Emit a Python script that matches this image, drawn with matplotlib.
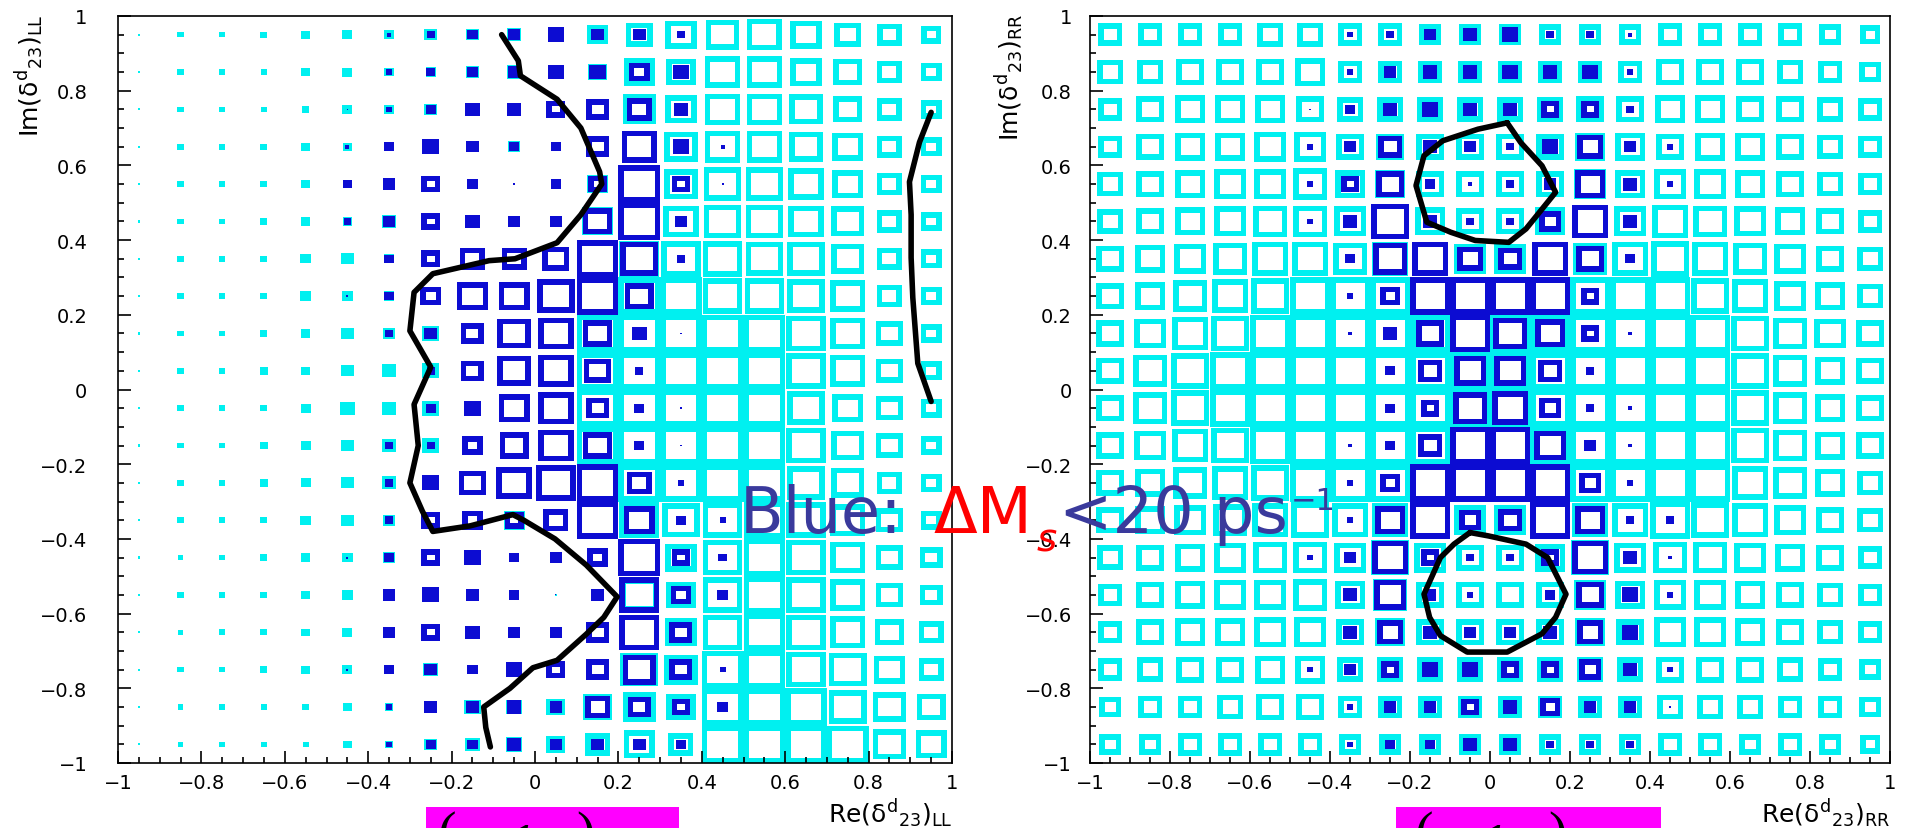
import matplotlib
matplotlib.use('Agg')
import matplotlib.pyplot as plt
import numpy as np
from matplotlib import font_manager
from matplotlib.path import Path
from matplotlib.collections import PathCollection
from matplotlib.patches import Rectangle
from matplotlib.ticker import MultipleLocator, FuncFormatter

# bin centres (20 x 20 bins on [-1, 1])
bin_centres = [-0.95, -0.85, -0.75, -0.65, -0.55, -0.45, -0.35, -0.25, -0.15, -0.05,
               0.05, 0.15, 0.25, 0.35, 0.45, 0.55, 0.65, 0.75, 0.85, 0.95]

# box sizes in % of the bin, rows from Im = +0.95 (top) down to -0.95
ll_all = [
    [6, 15, 15, 17, 22, 24, 25, 30, 30, 35, 40, 50, 65, 75, 80, 84, 75, 65, 58, 48],
    [6, 15, 15, 15, 20, 24, 22, 25, 30, 35, 40, 45, 75, 70, 85, 85, 75, 70, 60, 50],
    [6, 15, 15, 15, 18, 24, 25, 30, 35, 35, 45, 55, 80, 75, 85, 85, 80, 70, 60, 50],
    [6, 15, 15, 17, 22, 22, 25, 40, 30, 28, 25, 55, 85, 80, 85, 85, 80, 75, 60, 50],
    [5, 15, 15, 17, 22, 22, 30, 45, 25, 5, 25, 50, 100, 80, 90, 90, 85, 75, 60, 50],
    [6, 15, 15, 17, 22, 22, 35, 45, 35, 30, 30, 75, 100, 85, 90, 90, 85, 80, 60, 50],
    [6, 15, 15, 17, 25, 30, 25, 45, 60, 60, 65, 100, 95, 95, 95, 90, 90, 80, 60, 50],
    [5, 15, 15, 17, 25, 25, 25, 50, 75, 75, 90, 100, 100, 100, 95, 95, 90, 85, 60, 50],
    [6, 15, 15, 17, 22, 30, 30, 40, 55, 80, 85, 100, 100, 100, 100, 100, 95, 85, 65, 50],
    [6, 15, 15, 20, 22, 30, 35, 40, 55, 80, 85, 100, 100, 100, 100, 100, 95, 85, 65, 50],
    [6, 15, 15, 17, 24, 35, 35, 40, 40, 75, 85, 100, 100, 100, 100, 100, 90, 75, 65, 50],
    [6, 15, 15, 20, 24, 30, 35, 40, 50, 70, 85, 100, 100, 100, 100, 100, 95, 80, 65, 50],
    [6, 15, 15, 20, 24, 30, 35, 40, 65, 85, 95, 100, 100, 100, 100, 100, 90, 80, 60, 50],
    [6, 15, 15, 17, 25, 30, 30, 45, 50, 50, 60, 100, 95, 90, 95, 100, 95, 85, 65, 50],
    [6, 14, 15, 17, 22, 25, 30, 45, 40, 25, 30, 50, 100, 75, 95, 100, 95, 85, 65, 55],
    [5, 15, 15, 17, 22, 25, 30, 40, 30, 25, 5, 30, 90, 70, 95, 100, 95, 85, 65, 55],
    [5, 14, 15, 17, 20, 24, 30, 45, 35, 30, 30, 55, 95, 75, 95, 100, 95, 85, 70, 60],
    [5, 15, 15, 17, 22, 24, 25, 35, 25, 40, 45, 55, 90, 80, 100, 100, 95, 90, 75, 60],
    [5, 14, 14, 15, 18, 22, 20, 30, 40, 40, 45, 70, 80, 70, 100, 100, 100, 90, 80, 70],
    [5, 14, 14, 14, 15, 20, 20, 30, 35, 40, 45, 60, 75, 60, 100, 100, 100, 100, 80, 75],
]
ll_blue = [
    [0, 0, 0, 0, 0, 0, 10, 20, 25, 30, 40, 30, 30, 20, 0, 0, 0, 0, 0, 0],
    [0, 0, 0, 0, 0, 0, 15, 22, 25, 30, 40, 40, 50, 40, 0, 0, 0, 0, 0, 0],
    [0, 0, 0, 0, 0, 3, 15, 25, 35, 35, 45, 55, 60, 35, 0, 0, 0, 0, 0, 0],
    [0, 0, 0, 0, 0, 10, 25, 40, 30, 25, 25, 55, 85, 40, 10, 0, 0, 0, 0, 0],
    [0, 0, 0, 0, 0, 20, 30, 45, 25, 5, 25, 45, 100, 45, 5, 0, 0, 0, 0, 0],
    [0, 0, 0, 0, 0, 18, 30, 45, 35, 30, 30, 70, 100, 30, 0, 0, 0, 0, 0, 0],
    [0, 0, 0, 0, 0, 0, 22, 45, 60, 60, 65, 100, 90, 20, 0, 0, 0, 0, 0, 0],
    [0, 0, 0, 0, 0, 5, 22, 50, 75, 75, 90, 100, 70, 0, 0, 0, 0, 0, 0, 0],
    [0, 0, 0, 0, 0, 0, 20, 30, 55, 80, 85, 70, 35, 5, 0, 0, 0, 0, 0, 0],
    [0, 0, 0, 0, 0, 0, 0, 20, 55, 80, 85, 65, 20, 0, 0, 0, 0, 0, 0, 0],
    [0, 0, 0, 0, 0, 0, 0, 25, 40, 75, 85, 55, 25, 5, 0, 0, 0, 0, 0, 0],
    [0, 0, 0, 0, 0, 0, 20, 20, 50, 70, 85, 70, 25, 5, 0, 0, 0, 0, 0, 0],
    [0, 0, 0, 0, 0, 0, 20, 40, 65, 85, 95, 100, 60, 15, 0, 0, 0, 0, 0, 0],
    [0, 0, 0, 0, 0, 0, 20, 45, 50, 45, 60, 100, 75, 25, 15, 0, 0, 0, 0, 0],
    [0, 0, 0, 0, 0, 5, 25, 45, 40, 25, 30, 50, 100, 45, 20, 0, 0, 0, 0, 0],
    [0, 0, 0, 0, 0, 0, 30, 40, 30, 25, 3, 30, 95, 50, 25, 0, 0, 0, 0, 0],
    [0, 0, 0, 0, 0, 0, 30, 45, 35, 30, 30, 55, 95, 55, 0, 0, 0, 0, 0, 0],
    [0, 0, 0, 0, 0, 5, 25, 30, 25, 40, 45, 55, 80, 55, 15, 0, 0, 0, 0, 0],
    [0, 0, 0, 0, 0, 0, 15, 30, 30, 35, 30, 60, 55, 45, 25, 0, 0, 0, 0, 0],
    [0, 0, 0, 0, 0, 0, 15, 25, 25, 35, 30, 30, 30, 25, 0, 0, 0, 0, 0, 0],
]
rr_all = [
    [60, 60, 60, 60, 65, 65, 60, 60, 55, 55, 55, 55, 55, 55, 60, 60, 60, 60, 55, 50],
    [65, 65, 70, 70, 70, 75, 60, 60, 60, 60, 60, 60, 60, 60, 70, 70, 70, 65, 60, 55],
    [60, 70, 75, 75, 75, 70, 65, 65, 65, 65, 65, 65, 70, 70, 75, 75, 70, 70, 65, 60],
    [60, 70, 75, 75, 80, 80, 70, 70, 70, 70, 70, 70, 75, 75, 70, 75, 75, 70, 65, 60],
    [65, 70, 75, 80, 80, 85, 75, 75, 70, 70, 70, 70, 80, 75, 80, 80, 75, 70, 65, 60],
    [65, 70, 75, 80, 85, 85, 80, 95, 75, 70, 70, 75, 90, 80, 90, 85, 80, 75, 70, 60],
    [70, 75, 80, 85, 90, 90, 85, 90, 90, 80, 80, 90, 85, 90, 95, 90, 85, 80, 70, 65],
    [70, 75, 85, 90, 95, 100, 100, 100, 100, 100, 100, 100, 100, 100, 100, 95, 90, 80, 75, 65],
    [70, 80, 90, 95, 100, 100, 100, 100, 100, 100, 100, 100, 100, 100, 100, 100, 95, 85, 80, 70],
    [70, 85, 95, 100, 100, 100, 100, 100, 100, 100, 100, 100, 100, 100, 100, 100, 95, 85, 75, 70],
    [70, 85, 95, 100, 100, 100, 100, 100, 100, 100, 100, 100, 100, 100, 100, 100, 95, 85, 75, 70],
    [70, 80, 90, 95, 100, 100, 100, 100, 100, 100, 100, 100, 100, 100, 100, 100, 95, 85, 75, 70],
    [70, 75, 85, 90, 95, 100, 100, 100, 100, 100, 100, 100, 100, 100, 100, 100, 90, 85, 75, 65],
    [70, 75, 80, 85, 90, 95, 90, 90, 100, 80, 80, 100, 90, 90, 100, 95, 90, 80, 70, 65],
    [65, 70, 75, 80, 85, 85, 80, 95, 80, 70, 70, 75, 95, 80, 85, 85, 80, 75, 70, 60],
    [60, 70, 75, 80, 80, 85, 75, 85, 70, 70, 70, 70, 80, 75, 80, 80, 75, 70, 65, 60],
    [60, 70, 75, 75, 80, 80, 70, 75, 70, 70, 70, 70, 75, 70, 80, 80, 75, 70, 65, 60],
    [60, 65, 70, 70, 75, 75, 65, 65, 65, 65, 65, 65, 65, 65, 70, 70, 70, 65, 60, 55],
    [55, 60, 60, 65, 70, 70, 60, 60, 60, 60, 60, 60, 60, 60, 65, 65, 65, 60, 60, 55],
    [55, 55, 60, 60, 60, 60, 55, 55, 55, 55, 55, 55, 55, 55, 60, 60, 55, 60, 55, 50],
]
rr_blue = [
    [0, 0, 0, 0, 0, 0, 15, 20, 30, 35, 40, 20, 20, 10, 0, 0, 0, 0, 0, 0],
    [0, 0, 0, 0, 0, 0, 15, 30, 35, 35, 40, 35, 40, 15, 0, 0, 0, 0, 0, 0],
    [0, 0, 0, 0, 0, 3, 25, 35, 40, 35, 35, 45, 45, 20, 0, 0, 0, 0, 0, 0],
    [0, 0, 0, 0, 0, 15, 30, 60, 35, 30, 20, 40, 65, 30, 15, 0, 0, 0, 0, 0],
    [0, 0, 0, 0, 0, 15, 45, 70, 25, 10, 20, 30, 75, 35, 15, 0, 0, 0, 0, 0],
    [0, 0, 0, 0, 0, 15, 35, 95, 35, 20, 20, 55, 90, 35, 0, 0, 0, 0, 0, 0],
    [0, 0, 0, 0, 0, 0, 25, 85, 90, 65, 60, 90, 70, 25, 0, 0, 0, 0, 0, 0],
    [0, 0, 0, 0, 0, 0, 15, 50, 100, 100, 100, 100, 45, 0, 0, 0, 0, 0, 0, 0],
    [0, 0, 0, 0, 0, 0, 10, 35, 70, 100, 85, 75, 45, 10, 0, 0, 0, 0, 0, 0],
    [0, 0, 0, 0, 0, 0, 0, 25, 60, 80, 80, 60, 20, 0, 0, 0, 0, 0, 0, 0],
    [0, 0, 0, 0, 0, 0, 0, 25, 45, 85, 90, 55, 20, 10, 0, 0, 0, 0, 0, 0],
    [0, 0, 0, 0, 0, 0, 10, 25, 60, 100, 100, 80, 30, 10, 0, 0, 0, 0, 0, 0],
    [0, 0, 0, 0, 0, 0, 15, 50, 100, 100, 100, 100, 55, 15, 0, 0, 0, 0, 0, 0],
    [0, 0, 0, 0, 0, 0, 15, 75, 100, 55, 60, 100, 75, 20, 20, 0, 0, 0, 0, 0],
    [0, 0, 0, 0, 0, 15, 30, 90, 45, 20, 20, 45, 90, 35, 10, 0, 0, 0, 0, 0],
    [0, 0, 0, 0, 0, 0, 35, 80, 30, 15, 2, 25, 70, 40, 15, 0, 0, 0, 0, 0],
    [0, 0, 0, 0, 0, 0, 35, 65, 35, 30, 30, 35, 65, 40, 0, 0, 0, 0, 0, 0],
    [0, 0, 0, 0, 0, 15, 30, 45, 40, 40, 45, 45, 55, 35, 15, 0, 0, 0, 0, 0],
    [0, 0, 0, 0, 0, 0, 15, 30, 30, 45, 35, 50, 30, 30, 3, 0, 0, 0, 0, 0],
    [0, 0, 0, 0, 0, 0, 15, 25, 25, 35, 35, 20, 20, 20, 0, 0, 0, 0, 0, 0],
]

# hand-drawn contours
ll_left_x = [-0.08, -0.04, -0.035, 0.053, 0.11, 0.155, 0.16, 0.11, 0.053, -0.048, -0.11, -0.245,
             -0.29, -0.30, -0.25, -0.29, -0.28, -0.30, -0.27, -0.245, -0.155, -0.053, -0.027,
             0.048, 0.123, 0.197, 0.165, 0.123, 0.053, -0.005, -0.06, -0.123, -0.118, -0.107]
ll_left_y = [0.95, 0.88, 0.84, 0.777, 0.70, 0.583, 0.55, 0.468, 0.393, 0.35, 0.345, 0.31,
             0.26, 0.157, 0.06, -0.04, -0.15, -0.25, -0.326, -0.38, -0.365, -0.335, -0.35,
             -0.40, -0.47, -0.555, -0.61, -0.655, -0.725, -0.745, -0.80, -0.85, -0.905, -0.957]
ll_right_x = [0.95, 0.922, 0.898, 0.902, 0.902, 0.906, 0.918, 0.95]
ll_right_y = [0.742, 0.662, 0.556, 0.468, 0.353, 0.246, 0.07, -0.032]
rr_top_x = [0.043, -0.03, -0.118, -0.165, -0.185, -0.158, -0.098, -0.037, 0.047, 0.09, 0.164, 0.13, 0.077, 0.043]
rr_top_y = [0.714, 0.697, 0.666, 0.626, 0.546, 0.448, 0.421, 0.399, 0.394, 0.43, 0.528, 0.599, 0.661, 0.714]
rr_bot_x = [-0.05, -0.004, 0.09, 0.144, 0.19, 0.164, 0.13, 0.043, -0.057, -0.124, -0.151, -0.165, -0.124, -0.09, -0.05]
rr_bot_y = [-0.383, -0.392, -0.414, -0.45, -0.548, -0.61, -0.654, -0.703, -0.703, -0.659, -0.61, -0.548, -0.45, -0.414, -0.383]

W, H = 1905, 829
CYAN = '#00f0f0'
BLUE = '#0c0cd2'
TXT_BLUE = '#3a3a9c'
LINE_PX = 5.5

fig = plt.figure(figsize=(W / 100, H / 100), dpi=100)
plt.rcParams['font.family'] = ['DejaVu Sans']
plt.rcParams['mathtext.fontset'] = 'custom'
plt.rcParams['mathtext.rm'] = 'Liberation Sans'
plt.rcParams['mathtext.it'] = 'Liberation Sans'
plt.rcParams['mathtext.default'] = 'regular'


def box_paths(sizes, tx, ty):
    paths = []
    M, L, C = Path.MOVETO, Path.LINETO, Path.CLOSEPOLY
    for j, y in enumerate(bin_centres[::-1]):
        for i, x in enumerate(bin_centres):
            s = sizes[j][i] / 100.0
            if s <= 0:
                continue
            hw = hh = s * 0.05
            outer = [(x - hw, y - hh), (x + hw, y - hh), (x + hw, y + hh), (x - hw, y + hh), (x - hw, y - hh)]
            if hw > 1.5 * tx and hh > 1.5 * ty:
                iw, ih = hw - tx, hh - ty
                inner = [(x - iw, y - ih), (x - iw, y + ih), (x + iw, y + ih), (x + iw, y - ih), (x - iw, y - ih)]
                paths.append(Path(outer + inner, [M, L, L, L, C] * 2))
            else:
                paths.append(Path(outer, [M, L, L, L, C]))
    return paths


def draw_panel(rect, all_sizes, blue_sizes, contours, ypad):
    ax = fig.add_axes(rect)
    ax.set_xlim(-1, 1)
    ax.set_ylim(-1, 1)
    tx = LINE_PX * 2.0 / (rect[2] * W)
    ty = LINE_PX * 2.0 / (rect[3] * H)
    ax.add_collection(PathCollection(box_paths(all_sizes, tx, ty), facecolors=CYAN, edgecolors='none'))
    ax.add_collection(PathCollection(box_paths(blue_sizes, tx, ty), facecolors=BLUE, edgecolors='none'))
    for cx, cy in contours:
        ax.plot(cx, cy, color='black', lw=4.0, solid_joinstyle='round', solid_capstyle='round')
    ax.xaxis.set_major_locator(MultipleLocator(0.2))
    ax.yaxis.set_major_locator(MultipleLocator(0.2))
    ax.xaxis.set_minor_locator(MultipleLocator(0.05))
    ax.yaxis.set_minor_locator(MultipleLocator(0.05))
    fmt = FuncFormatter(lambda v, p: ('%g' % round(v, 2)).replace('-', '\u2212'))
    ax.xaxis.set_major_formatter(fmt)
    ax.yaxis.set_major_formatter(fmt)
    ax.tick_params(which='both', direction='in', top=False, right=False, width=1.2, labelsize=14)
    ax.tick_params(which='major', length=9)
    ax.tick_params(which='minor', length=4.5)
    ax.tick_params(axis='x', which='major', pad=7)
    ax.tick_params(axis='y', which='major', pad=ypad)
    for sp in ax.spines.values():
        sp.set_linewidth(1.2)
    return ax


ax_l = draw_panel([118 / W, 1 - 764 / H, 834 / W, 747 / H], ll_all, ll_blue,
                  [(ll_left_x, ll_left_y), (ll_right_x, ll_right_y)], 22)
ax_r = draw_panel([1090 / W, 1 - 764 / H, 800 / W, 747 / H], rr_all, rr_blue,
                  [(rr_top_x, rr_top_y), (rr_bot_x, rr_bot_y)], 13)

# axis titles (ROOT style: at the ends of the axes)
fig.text(952 / W, 1 - 797 / H, r'Re$(\delta^{d}{}_{23})_{LL}$', fontsize=18, ha='right', va='top')
fig.text(1890 / W, 1 - 797 / H, r'Re$(\delta^{d}{}_{23})_{RR}$', fontsize=18, ha='right', va='top')
fig.text(30 / W, 1 - 14 / H, r'Im$(\delta^{d}{}_{23})_{LL}$', fontsize=18, rotation=90, ha='center', va='top')
fig.text(1010 / W, 1 - 14 / H, r'Im$(\delta^{d}{}_{23})_{RR}$', fontsize=18, rotation=90, ha='center', va='top')

# magenta formula boxes cut off at the bottom
for x0, x1 in [(426, 679), (1396, 1661)]:
    fig.patches.append(Rectangle((x0 / W, 0), (x1 - x0) / W, 21 / H, transform=fig.transFigure,
                                 facecolor='#ff00ff', edgecolor='none'))
for px in [447, 586, 1424, 1557]:
    txt = '(' if px in (447, 1424) else ')'
    fig.text(px / W, -22 / H, txt, fontsize=40, ha='center', va='baseline', color='black',
             family='Liberation Serif')
for px in [521, 1493]:
    fig.text(px / W, -24 / H, '1', fontsize=30, style='italic', weight='bold', ha='center',
             va='baseline', color='black', family='Liberation Serif')

# overlay annotation, pieces placed one after another
renderer = fig.canvas.get_renderer()
pieces = [('Blue:', TXT_BLUE, 46, 533, 'normal', 31),
          ('\u0394M', 'red', 46, 533, 'normal', 4),
          ('s', 'red', 28, 551, 'italic', 2),
          ('<20 ps', TXT_BLUE, 46, 533, 'normal', 3),
          ('\u22121', TXT_BLUE, 22, 510, 'normal', 0)]
xpos = 740
for txt, col, size, base, style, gap in pieces:
    t = fig.text(xpos / W, 1 - base / H, txt, fontsize=size, color=col, style=style,
                 va='baseline', family='DejaVu Sans')
    xpos = t.get_window_extent(renderer).x1 + gap

fig.savefig('out.png', dpi=100)
